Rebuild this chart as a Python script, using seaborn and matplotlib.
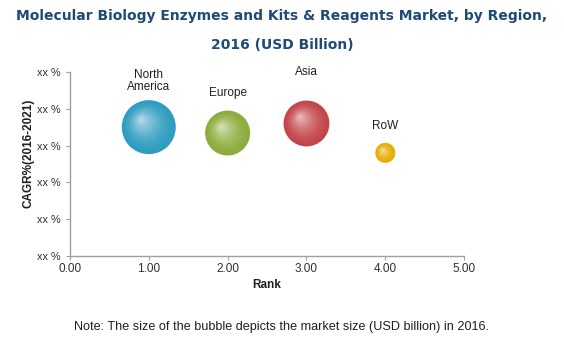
import numpy as np
import pandas as pd
import matplotlib
matplotlib.use("Agg")
import matplotlib.pyplot as plt
import matplotlib.transforms as mtransforms
from matplotlib.colors import to_rgb
import seaborn as sns

regions = ["North\nAmerica", "Europe", "Asia", "RoW"]
rank = [1.0, 2.0, 3.0, 4.0]
cagr = [3.5, 3.34, 3.6, 2.8]
market = [3.6, 2.5, 2.6, 0.5]
colors = ["#2f9cc0", "#8cac3c", "#c2454a", "#e6ac00"]
label_gap = [5, 8, 16, 8]
ytick_labels = ["xx %"] * 6
xticks = [0, 1, 2, 3, 4, 5]

df = pd.DataFrame({"region": regions, "rank": rank, "cagr": cagr, "market": market})

sns.set_style("white")
plt.rcParams["font.family"] = ["Liberation Sans", "DejaVu Sans"]

fig = plt.figure(figsize=(5.64, 3.38), dpi=100)
ax = fig.add_axes([0.124, 0.243, 0.699, 0.544])

size_range = (207, 1512)
sns.scatterplot(data=df, x="rank", y="cagr", size="market", sizes=size_range,
                hue="region", palette=colors, legend=False, ax=ax,
                edgecolor="none", linewidth=0, zorder=3)

# sphere shading layers
mn, mx = min(market), max(market)
n = 14
for i, row in df.iterrows():
    s = size_range[0] + (row["market"] - mn) / (mx - mn) * (size_range[1] - size_range[0])
    r = np.sqrt(s) / 2
    base = np.array(to_rgb(colors[i]))
    for k in range(1, n):
        f = 1 - k / n
        dx, dy = -(1 - f) * r * 0.3, (1 - f) * r * 0.3
        light = base + (np.ones(3) - base) * (k / n) ** 1.6 * 0.7
        tr = mtransforms.offset_copy(ax.transData, fig=fig, x=dx, y=dy, units="points")
        ax.scatter([row["rank"]], [row["cagr"]], s=s * f * f, color=light,
                   edgecolor="none", transform=tr, zorder=3 + k * 0.01)
    ax.annotate(row["region"], (row["rank"], row["cagr"]), xytext=(0, r + label_gap[i]),
                textcoords="offset points", ha="center", va="bottom",
                fontsize=8.5, color="#202020", linespacing=1.0)

ax.set_xlim(0, 5)
ax.set_ylim(0, 5)
ax.set_xticks(xticks)
ax.set_xticklabels([f"{v:.2f}" for v in xticks], fontsize=8.5, color="#303030")
ax.set_yticks(range(6))
ax.set_yticklabels(ytick_labels, fontsize=7.8, color="#303030")
for side in ["top", "right"]:
    ax.spines[side].set_visible(False)
for side in ["left", "bottom"]:
    ax.spines[side].set_color("#a0a0a0")
    ax.spines[side].set_linewidth(1.0)
ax.tick_params(axis="both", which="both", length=3, color="#a0a0a0", direction="out",
               bottom=True, left=True, pad=2)
ax.tick_params(axis="y", pad=4)
ax.set_xlabel("Rank", fontsize=8.5, fontweight="bold", color="#202020", labelpad=3)
ax.set_ylabel("CAGR%(2016-2021)", fontsize=8.5, fontweight="bold", color="#202020")
ax.yaxis.set_label_coords(-0.09, 0.56)

fig.text(0.5, 0.972, "Molecular Biology Enzymes and Kits & Reagents Market, by Region,\n2016 (USD Billion)",
         ha="center", va="top", fontsize=10.0, fontweight="bold", color="#1f4a78",
         family="DejaVu Sans", linespacing=2.35)
fig.text(0.5, 0.014, "Note: The size of the bubble depicts the market size (USD billion) in 2016.",
         ha="center", va="bottom", fontsize=9.1, color="#202020")

fig.savefig("out.png", dpi=100)
